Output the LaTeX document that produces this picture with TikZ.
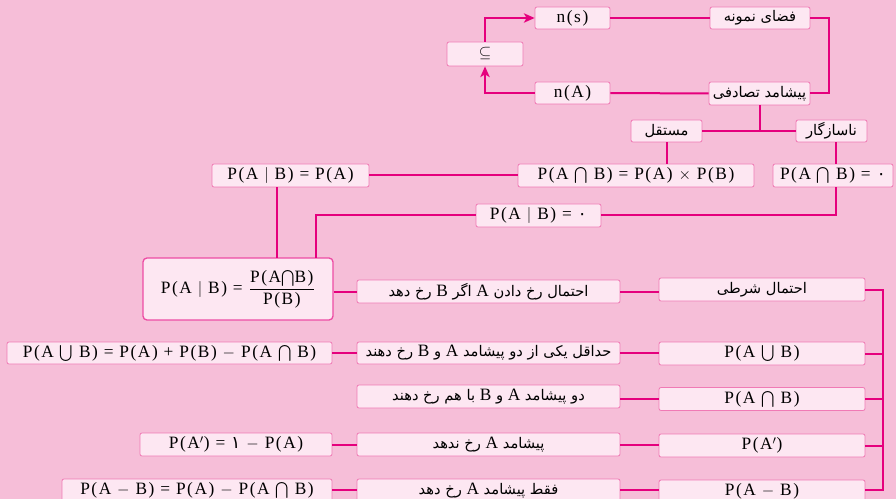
\documentclass[tikz,border=0pt]{standalone}
\usepackage{amsmath}
\usepackage{fontspec}
\setmainfont{Liberation Serif}[LetterSpace=9]
\newfontfamily\fa[Script=Arabic]{DejaVu Sans}
\TeXXeTstate=1
\usetikzlibrary{arrows.meta,calc}
\definecolor{bgpink}{HTML}{F6BED8}
\definecolor{boxfill}{HTML}{FDE7F2}
\definecolor{boxline}{HTML}{F07AB5}
\definecolor{conn}{HTML}{E5007D}
\newcommand\fat[1]{{\fa\fontsize{11}{13}\selectfont\raisebox{-0.5pt}{\beginR #1\endR}}}
\newcommand\lt[1]{{\rmfamily\fontsize{13}{15}\selectfont #1}}
\newcommand\zr{{\fa ۰}}
\newcommand\yek{{\fa ۱}}
\newcommand\icap{$\mathbin{\textstyle\bigcap}$}
\newcommand\icup{$\mathbin{\textstyle\bigcup}$}
\tikzset{
  bx/.style={draw=boxline, fill=boxfill, line width=0.6pt, rounded corners=1.5pt,
    inner sep=0pt, font=\fontsize{13}{15}\selectfont},
  cn/.style={draw=conn, line width=1.5pt},
  arr/.style={cn, -{Stealth[length=8pt,width=7pt,inset=2pt]}}
}
\newcommand\bx[6]{\node[bx, minimum width=#4*0.75pt, minimum height=#5*0.75pt] (#1) at (#2,#3) {#6};}
\begin{document}
\begin{tikzpicture}[x=0.75pt,y=-0.75pt]
\fill[bgpink] (0,0) rectangle (896,499);
\useasboundingbox (0,0) rectangle (896,499);
\clip (0,0) rectangle (896,499);
% top block
\bx{nS}{572.5}{18}{75}{22}{n(s)}
\bx{fz}{760}{18}{100}{22}{\fat{فضای نمونه}}
\bx{sub}{485}{54}{76}{24}{\large$\subseteq$}
\bx{nA}{572.5}{93}{75}{22}{n(A)}
\bx{pt}{759.5}{93.5}{101}{23}{\fat{پیشامد تصادفی}}
\bx{ind}{666.5}{131}{71}{22}{\fat{مستقل}}
\bx{inc}{831.5}{131}{71}{22}{\fat{ناسازگار}}
\bx{indf}{636}{175.5}{236}{23}{P(A \icap\ B) = P(A) $\times$ P(B)}
\bx{incf}{833}{175.5}{120}{23}{P(A \icap\ B) = \zr}
\bx{pabA}{290.5}{175.5}{157}{23}{P(A $|$ B) = P(A)}
\bx{pab0}{538.5}{215.5}{125}{23}{P(A $|$ B) = \zr}
\node[bx, draw=conn!70, line width=1pt, rounded corners=3pt, minimum width=190*0.75pt, minimum height=62*0.75pt] (frac) at (238,289)
  {P(A $|$ B) = $\dfrac{\text{P(A\icap B)}}{\text{P(B)}}$};
% rows
\bx{t1}{488.5}{291.5}{263}{23}{\fat{احتمال رخ دادن \lt{A} اگر \lt{B} رخ دهد}}
\bx{cond}{762}{289.5}{206}{23}{\fat{احتمال شرطی}}
\bx{fU}{169.5}{353}{325}{22}{P(A \icup\ B) = P(A) + P(B) $-$ P(A \icap\ B)}
\bx{t2}{488.5}{353}{263}{22}{\fat{حداقل یکی از دو پیشامد \lt{A} و \lt{B} رخ دهند}}
\bx{pU}{762}{353.5}{206}{23}{P(A \icup\ B)}
\bx{t3}{488.5}{396.5}{263}{23}{\fat{دو پیشامد \lt{A} و \lt{B} با هم رخ دهند}}
\bx{pI}{762}{399}{206}{23}{P(A \icap\ B)}
\bx{fC}{236}{444.5}{192}{23}{P(A$'$) = \yek\ $-$ P(A)}
\bx{t4}{488.5}{444.5}{263}{23}{\fat{پیشامد \lt{A} رخ ندهد}}
\bx{pC}{762}{445.5}{206}{23}{P(A$'$)}
\bx{fD}{197}{490.5}{270}{23}{P(A $-$ B) = P(A) $-$ P(A \icap\ B)}
\bx{t5}{488.5}{490.5}{263}{23}{\fat{فقط پیشامد \lt{A} رخ دهد}}
\bx{pD}{762}{491.5}{206}{23}{P(A $-$ B)}
% coordinates
\coordinate (r1) at (829,18);
\coordinate (j1) at (760,131);
\coordinate (fr1) at (277,258);
\coordinate (fr2) at (316,258);
\coordinate (sp) at (883,490);
\coordinate (ic) at (836,131);
% connectors top
\draw[cn] (nS.east) -- (fz.west);
\draw[cn] (fz.east) -- (r1) |- (pt.east);
\draw[cn] (nA.east) -- (pt.west);
\draw[arr] (nA.west) -| (sub.south);
\draw[arr] (sub.north) |- (nS.west);
\draw[cn] (j1 |- pt.south) -- (j1);
\draw[cn] (ind.east) -- (inc.west);
\draw[cn] (ind.south) -- (ind.south |- indf.north);
\draw[cn] (ic |- inc.south) -- (ic |- incf.north);
\draw[cn] (ic |- incf.south) |- (pab0.east);
\draw[cn] (pab0.west) -| (fr2);
\draw[cn] (fr1 |- pabA.south) -- (fr1);
\draw[cn] (pabA.east) -- (indf.west);
% rows connectors
\draw[cn] (frac.east |- t1.west) -- (t1.west);
\draw[cn] (t1.east) -- (t1.east -| cond.west);
\draw[cn] (cond.east) -| (sp) -- (pD.east |- sp);
\draw[cn] (fU.east) -- (t2.west);
\draw[cn] (t2.east) -- (t2.east -| pU.west);
\draw[cn] (pU.east) -- (pU.east -| sp);
\draw[cn] (t3.east |- pI.west) -- (pI.west);
\draw[cn] (pI.east) -- (pI.east -| sp);
\draw[cn] (fC.east) -- (t4.west);
\draw[cn] (t4.east) -- (t4.east -| pC.west);
\draw[cn] (pC.east) -- (pC.east -| sp);
\draw[cn] (fD.east |- sp) -- (t5.west |- sp);
\draw[cn] (t5.east |- sp) -- (pD.west |- sp);
\end{tikzpicture}
\end{document}
